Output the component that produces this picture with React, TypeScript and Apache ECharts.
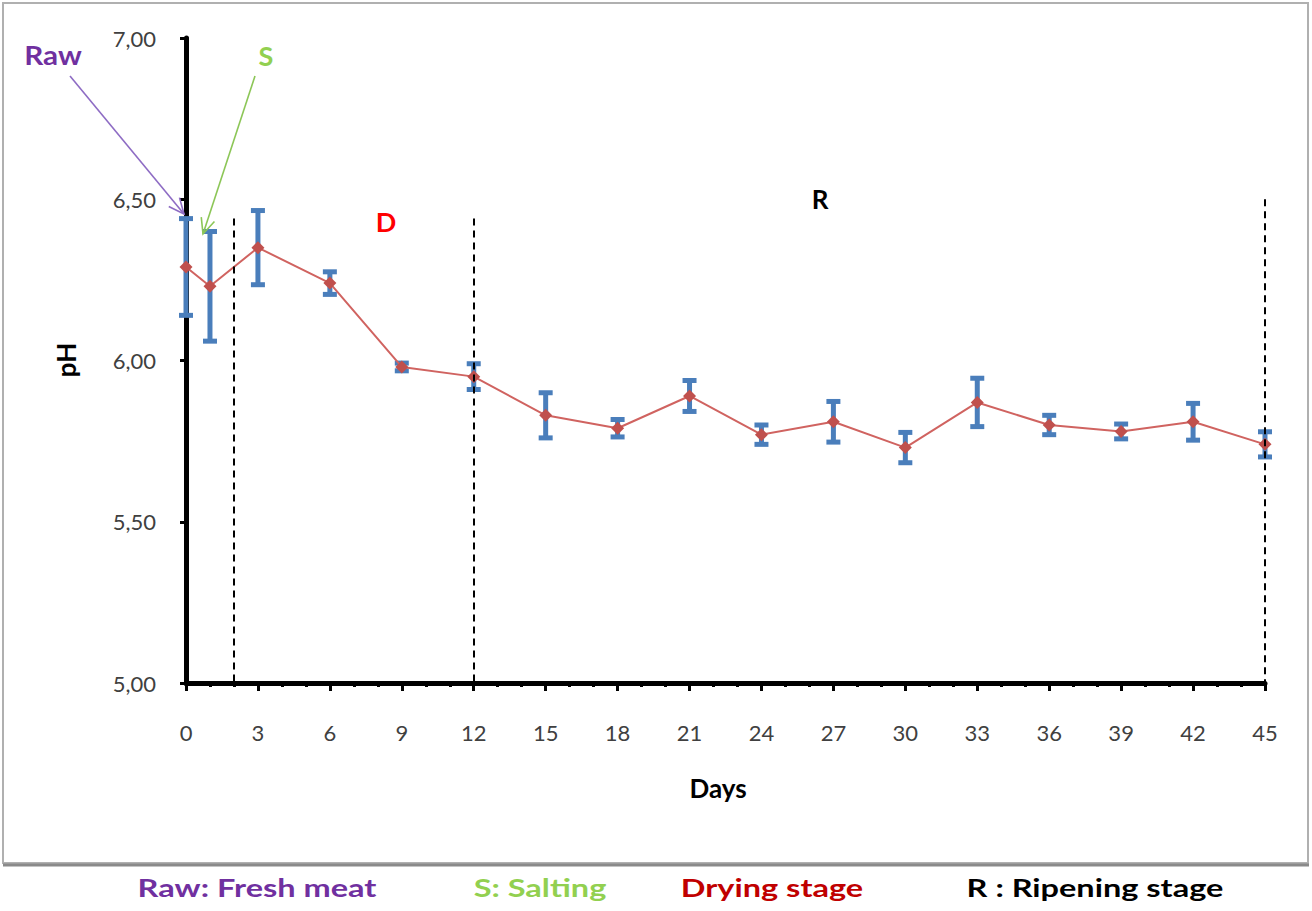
import React, { useEffect, useRef } from "react";
import * as echarts from "echarts";

// Days of sampling and measured pH (mean and standard deviation)
const days = [0, 1, 3, 6, 9, 12, 15, 18, 21, 24, 27, 30, 33, 36, 39, 42, 45];
const phMean = [6.29, 6.23, 6.35, 6.24, 5.98, 5.95, 5.83, 5.79, 5.89, 5.77, 5.81, 5.73, 5.87, 5.80, 5.78, 5.81, 5.74];
const phSd = [0.15, 0.17, 0.115, 0.035, 0.012, 0.04, 0.07, 0.027, 0.048, 0.03, 0.063, 0.047, 0.075, 0.03, 0.023, 0.057, 0.039];

// Stage boundaries (day, top of dashed line in pH units)
const stageDays = [2, 12, 45];
const stageTops = [6.44, 6.44, 6.5];

const legendItems = ["Raw: Fresh meat", "S: Salting", "Drying stage", "R : Ripening stage"];
const legendColors = ["#7030a0", "#92d050", "#c00000", "#000000"];
const legendX = [257, 540, 772, 1095];

const FONT = "Lato, 'Open Sans', sans-serif";

function arrow(x1: number, y1: number, x2: number, y2: number, color: string) {
  const ang = Math.atan2(y2 - y1, x2 - x1);
  const L = 17;
  const a = 0.42;
  const p1 = [x2 - L * Math.cos(ang - a), y2 - L * Math.sin(ang - a)];
  const p2 = [x2 - L * Math.cos(ang + a), y2 - L * Math.sin(ang + a)];
  return [
    { type: "line", shape: { x1, y1, x2, y2 }, style: { stroke: color, lineWidth: 1.6 }, z: 20 },
    { type: "polyline", shape: { points: [p1, [x2, y2], p2] }, style: { stroke: color, lineWidth: 1.6, fill: null }, z: 20 },
  ];
}

export default function App() {
  const ref = useRef<HTMLDivElement>(null);
  useEffect(() => {
    if (!ref.current) return;
    const chart = echarts.init(ref.current, null, { renderer: "svg" });
    const meanData = days.map((d, i) => [d, phMean[i]]);
    const errData = days.map((d, i) => [d, phMean[i] - phSd[i], phMean[i] + phSd[i]]);
    const markData = stageDays.map((d, i) => [{ coord: [d, stageTops[i]] }, { coord: [d, 5] }]);

    const bigText = (t: string, x: number, y: number, color: string, size: number, extra: any = {}) => ({
      type: "text",
      x,
      y,
      ...extra,
      style: { text: t, fill: color, font: `bold ${size}px ${FONT}`, align: "center", verticalAlign: "middle" },
      z: 20,
    });

    const graphic: any[] = [
      { type: "rect", shape: { x: 3, y: 3, width: 1305, height: 860 }, style: { stroke: "#b0b0b0", lineWidth: 2, fill: "#fff" }, z: -10 },
      { type: "line", shape: { x1: 3, y1: 865, x2: 1309, y2: 865 }, style: { stroke: "#8a8a8a", lineWidth: 3 }, z: -9 },
      bigText("Raw", 53, 55, "#7030a0", 27, { scaleX: 1.1 }),
      bigText("S", 266, 55, "#92d050", 27),
      bigText("D", 386, 221, "#ff0000", 27),
      bigText("R", 820, 199, "#000", 26),
      bigText("Days", 718, 788, "#000", 26),
      bigText("pH", 66, 360, "#000", 26, { rotation: Math.PI / 2 }),
      ...arrow(70, 76, 184, 214, "#8e6cc4"),
      ...arrow(255, 76, 203, 234, "#8cc657"),
      ...legendItems.map((t, i) => bigText(t, legendX[i], 887, legendColors[i], 25, { scaleX: 1.3 })),
    ];

    chart.setOption({
      animation: false,
      backgroundColor: "#fff",
      grid: { left: 186, right: 47, top: 38, bottom: 228, containLabel: false },
      xAxis: {
        type: "value",
        min: 0,
        max: 45,
        interval: 3,
        axisLine: { show: true, onZero: false, lineStyle: { color: "#000", width: 5 } },
        axisTick: { show: true, length: 8, lineStyle: { color: "#000", width: 3 } },
        minorTick: { show: true, splitNumber: 3, length: 4, lineStyle: { color: "#000", width: 3 } },
        splitLine: { show: false },
        axisLabel: { fontSize: 22, color: "#404040", margin: 38, fontFamily: FONT },
      },
      yAxis: {
        type: "value",
        min: 5,
        max: 7,
        interval: 0.5,
        axisLine: { show: true, onZero: false, lineStyle: { color: "#000", width: 5 } },
        axisTick: { show: true, length: 6, lineStyle: { color: "#000", width: 3 } },
        splitLine: { show: false },
        axisLabel: {
          fontSize: 22,
          color: "#404040",
          margin: 30,
          fontFamily: FONT,
          formatter: (v: number) => v.toFixed(2).replace(".", ","),
        },
      },
      graphic,
      series: [
        {
          type: "custom",
          name: "sd",
          z: 2,
          dimensions: ["day", "lo", "hi"],
          encode: { x: 0, y: [1, 2] },
          data: errData,
          renderItem: (params: any, api: any) => {
            const x = api.value(0);
            const top = api.coord([x, api.value(2)]);
            const bot = api.coord([x, api.value(1)]);
            const hw = 7;
            const st = { stroke: "#4a7ebb", lineWidth: 5 };
            return {
              type: "group",
              children: [
                { type: "line", shape: { x1: top[0], y1: top[1], x2: bot[0], y2: bot[1] }, style: st },
                { type: "line", shape: { x1: top[0] - hw, y1: top[1], x2: top[0] + hw, y2: top[1] }, style: st },
                { type: "line", shape: { x1: bot[0] - hw, y1: bot[1], x2: bot[0] + hw, y2: bot[1] }, style: st },
              ],
            };
          },
        },
        {
          type: "line",
          z: 3,
          data: meanData,
          symbol: "diamond",
          symbolSize: 13,
          lineStyle: { color: "#d06360", width: 2 },
          itemStyle: { color: "#c0504d" },
          markLine: {
            silent: true,
            symbol: "none",
            label: { show: false },
            lineStyle: { color: "#000", width: 2, type: [7, 5] },
            data: markData,
          },
        },
      ],
    });
    return () => chart.dispose();
  }, []);
  return <div ref={ref} style={{ position: "absolute", left: 0, top: 0, width: 1312, height: 911 }} />;
}
